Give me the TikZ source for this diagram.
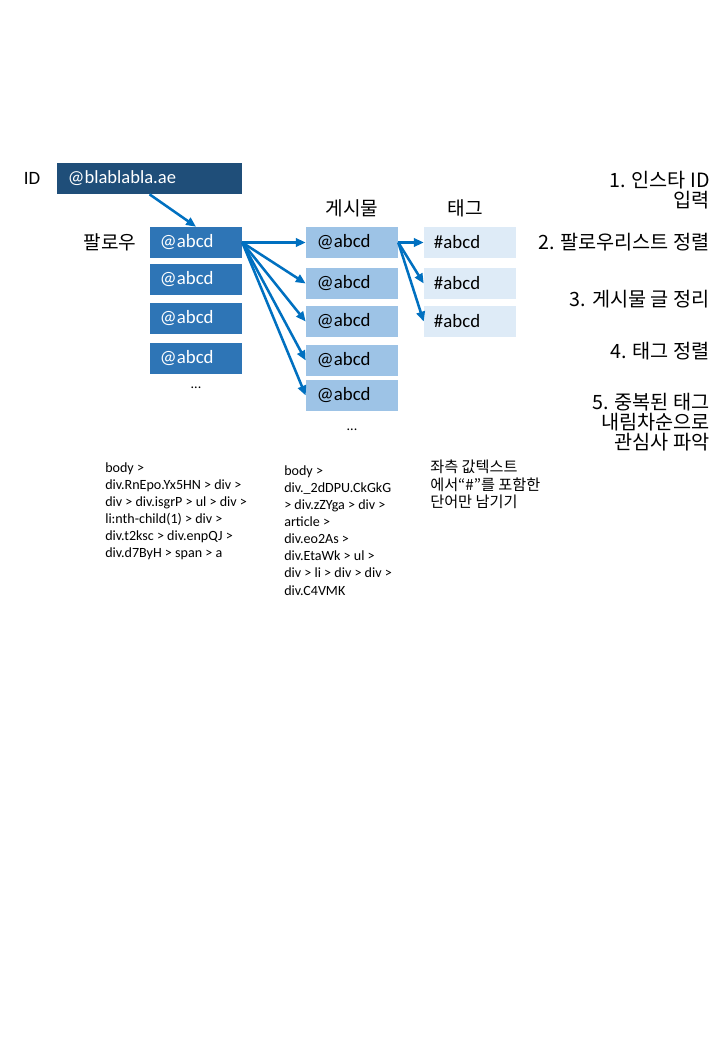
\documentclass[tikz,border=0pt]{standalone}
\usepackage{fontspec}
\setmainfont{Carlito}
\newfontfamily\kr{Noto Sans CJK KR}
\usepackage{xcolor}
\definecolor{iddark}{HTML}{1F4E79}
\definecolor{followblue}{HTML}{2E75B6}
\definecolor{postblue}{HTML}{9DC3E6}
\definecolor{tagblue}{HTML}{DEEBF7}
\definecolor{arrowblue}{HTML}{0070C0}
\usetikzlibrary{arrows.meta,positioning}

\begin{document}
\begin{tikzpicture}[
  x=0.025cm,y=-0.025cm,
  idbox/.style={fill=iddark,text=white,minimum width=4.625cm,minimum height=0.775cm,
                text width=4.075cm,inner xsep=0.275cm,align=left,
                font=\fontsize{13.2}{15}\selectfont},
  follow/.style={fill=followblue,text=white,minimum width=2.3cm,minimum height=0.775cm,
                 text width=1.8cm,inner xsep=0.25cm,align=left,
                 font=\fontsize{13.4}{15}\selectfont},
  post/.style={fill=postblue,minimum width=2.3cm,minimum height=0.775cm,
               text width=1.75cm,inner xsep=0.275cm,align=left,
               font=\fontsize{13.4}{15}\selectfont},
  tag/.style={fill=tagblue,minimum width=2.3cm,minimum height=0.775cm,
              text width=1.8cm,inner xsep=0.25cm,align=left,
              font=\fontsize{13.4}{15}\selectfont},
  head/.style={font=\fontsize{13.6}{15}\selectfont\kr},
  stepnote/.style={anchor=east,align=right,inner sep=0pt,
                   font=\fontsize{14}{14.2}\selectfont\kr},
  selector/.style={anchor=north west,align=left,inner sep=0pt,
                   font=\fontsize{10}{12.2}\selectfont},
  arrow/.style={-{Triangle[length=7pt,width=6pt]},line width=1.8pt,color=arrowblue}
]
\useasboundingbox (0,0) rectangle (720,1040);

% Instagram ID
\node (idlbl) at (32,178) {\fontsize{13.4}{15}\selectfont ID};
\node[idbox] (id) at (149.5,178.5) {@blablabla.ae};

% Follow list
\node[head] (flbl) at (110,242) {팔로우};
\node[follow] (f1) at (196,242.5) {@abcd};
\node[follow] (f2) at (196,279.5) {@abcd};
\node[follow] (f3) at (196,318.5) {@abcd};
\node[follow] (f4) at (196,358.5) {@abcd};
\node (fdots) at (196,388) {...};

% Posts
\node[head] (plbl) at (352,208) {게시물};
\node[post] (p1) at (352,242.5) {@abcd};
\node[post] (p2) at (352,283.5) {@abcd};
\node[post] (p3) at (352,321.5) {@abcd};
\node[post] (p4) at (352,360.5) {@abcd};
\node[post] (p5) at (352,395.5) {@abcd};
\node (pdots) at (352,430) {...};

% Tags
\node[head] (tlbl) at (465,208) {태그};
\node[tag] (t1) at (470,242.5) {\#abcd};
\node[tag] (t2) at (470,283.5) {\#abcd};
\node[tag] (t3) at (470,321.5) {\#abcd};

% Arrows
\draw[arrow] (id.south) -- (f1.north);
\foreach \p in {p1,p2,p3,p4,p5}
  \draw[arrow] (f1.east) -- (\p.west);
\foreach \t in {t1,t2,t3}
  \draw[arrow] (p1.east) -- (\t.west);

% Steps
\node[stepnote] (s1) at (710,190) {1. 인스타 ID\\입력};
\node[stepnote] (s2) at (710,242) {2. 팔로우리스트 정렬};
\node[stepnote] (s3) at (710,299) {3. 게시물 글 정리};
\node[stepnote] (s4) at (710,351) {4. 태그 정렬};
\node[stepnote] (s5) at (710,422) {5. 중복된 태그\\내림차순으로\\관심사 파악};

% Selectors
\node[selector] (fsel) at (105,462) {body >\\div.RnEpo.Yx5HN > div >\\div > div.isgrP > ul > div >\\li:nth-child(1) > div >\\div.t2ksc > div.enpQJ >\\div.d7ByH > span > a};
\node[selector] (psel) at (284,465) {body >\\div.\_2dDPU.CkGkG\\> div.zZYga > div >\\article >\\div.eo2As >\\div.EtaWk > ul >\\div > li > div > div >\\div.C4VMK};
\node[selector,font=\fontsize{10.8}{12.4}\selectfont\kr] (tsel) at (430,460) {좌측 값텍스트\\에서“\#”를 포함한\\단어만 남기기};

\end{tikzpicture}
\end{document}
